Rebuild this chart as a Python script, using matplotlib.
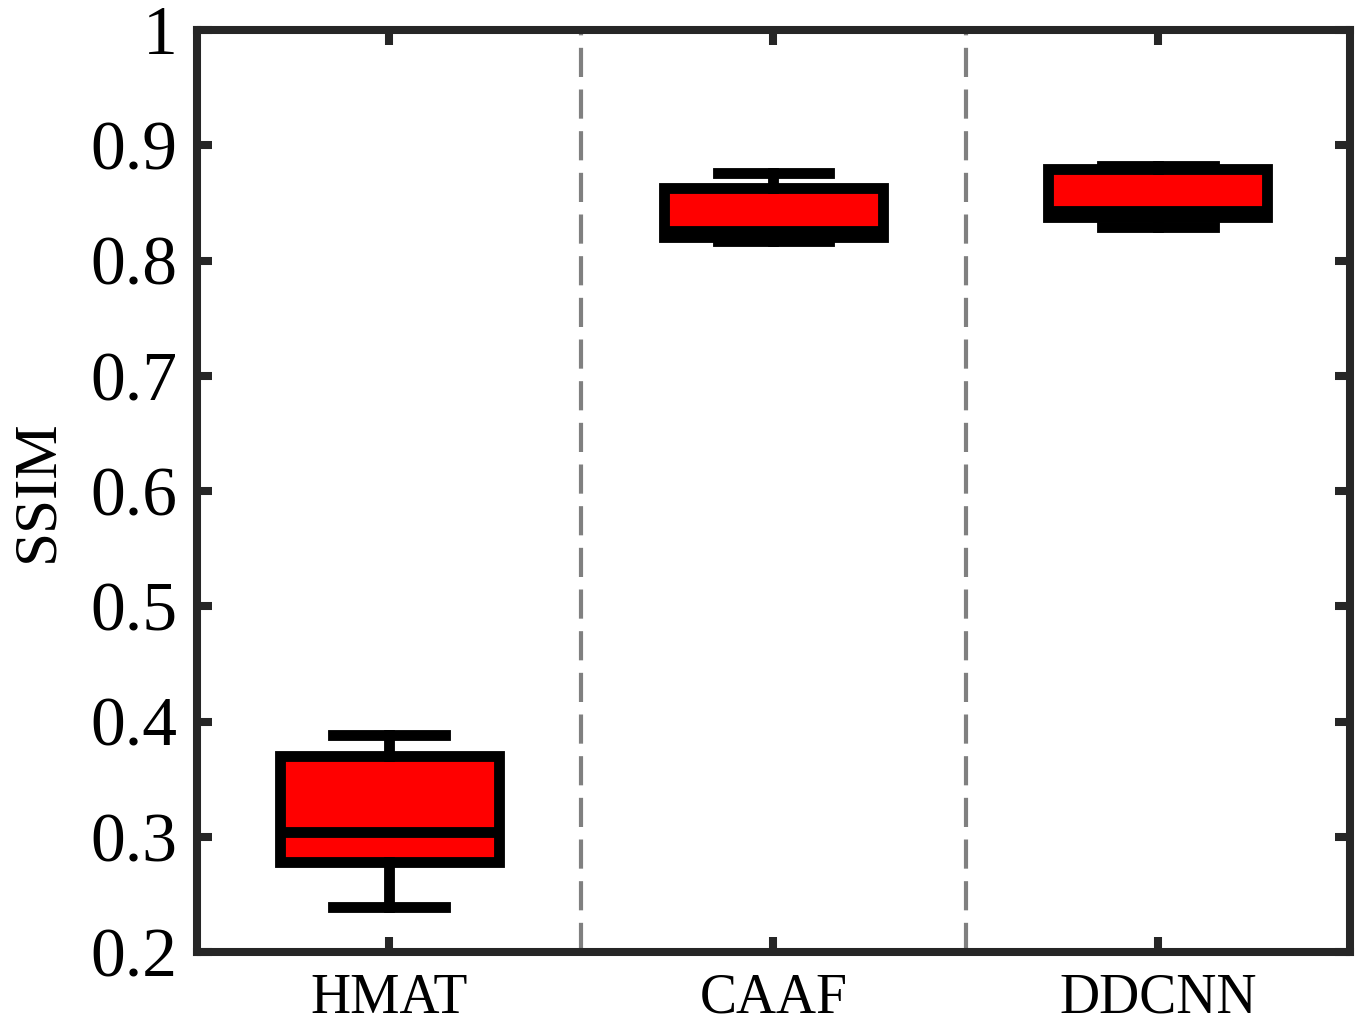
import matplotlib.pyplot as plt
from matplotlib.ticker import FuncFormatter

plt.rcParams['font.family'] = ['Liberation Serif', 'DejaVu Serif']

methods = ['HMAT', 'CAAF', 'DDCNN']
whislo = [0.239, 0.817, 0.829]
q1 = [0.278, 0.820, 0.838]
med = [0.304, 0.826, 0.843]
q3 = [0.370, 0.863, 0.879]
whishi = [0.388, 0.876, 0.882]

stats = []
for i, name in enumerate(methods):
    stats.append(dict(label=name, whislo=whislo[i], q1=q1[i], med=med[i],
                      q3=q3[i], whishi=whishi[i], fliers=[]))

fig = plt.figure(figsize=(13.65, 10.28), dpi=100)
ax = fig.add_axes([0.1443, 0.0739, 0.8447, 0.8969])

lw = 7.8
ax.bxp(stats, positions=[1, 2, 3], widths=0.57, capwidths=0.29,
       patch_artist=True, showfliers=False,
       boxprops=dict(facecolor='#ff0000', edgecolor='black', linewidth=lw),
       medianprops=dict(color='black', linewidth=lw),
       whiskerprops=dict(color='black', linewidth=lw, linestyle='-'),
       capprops=dict(color='black', linewidth=lw))

# separators between methods
for xs in [1.5, 2.5]:
    ax.axvline(xs, color='#808080', linewidth=3.0, linestyle=(0, (7, 3)), zorder=0)

ax.set_xlim(0.5, 3.5)
ax.set_ylim(0.2, 1.0)
ax.set_yticks([0.2, 0.3, 0.4, 0.5, 0.6, 0.7, 0.8, 0.9, 1.0])
ax.yaxis.set_major_formatter(FuncFormatter(lambda v, p: '%g' % round(v, 2)))
ax.set_xticks([1, 2, 3])
ax.set_xticklabels(methods)

for s in ax.spines.values():
    s.set_linewidth(5.8)
    s.set_color('#262626')

ax.tick_params(axis='both', direction='in', length=11, width=5.8, color='#262626',
               top=True, right=True)
ax.tick_params(axis='y', labelsize=50, pad=14)
ax.tick_params(axis='x', labelsize=40, pad=15)
ax.set_ylabel('SSIM', fontsize=44, labelpad=18)

fig.savefig('out.png', dpi=100)
